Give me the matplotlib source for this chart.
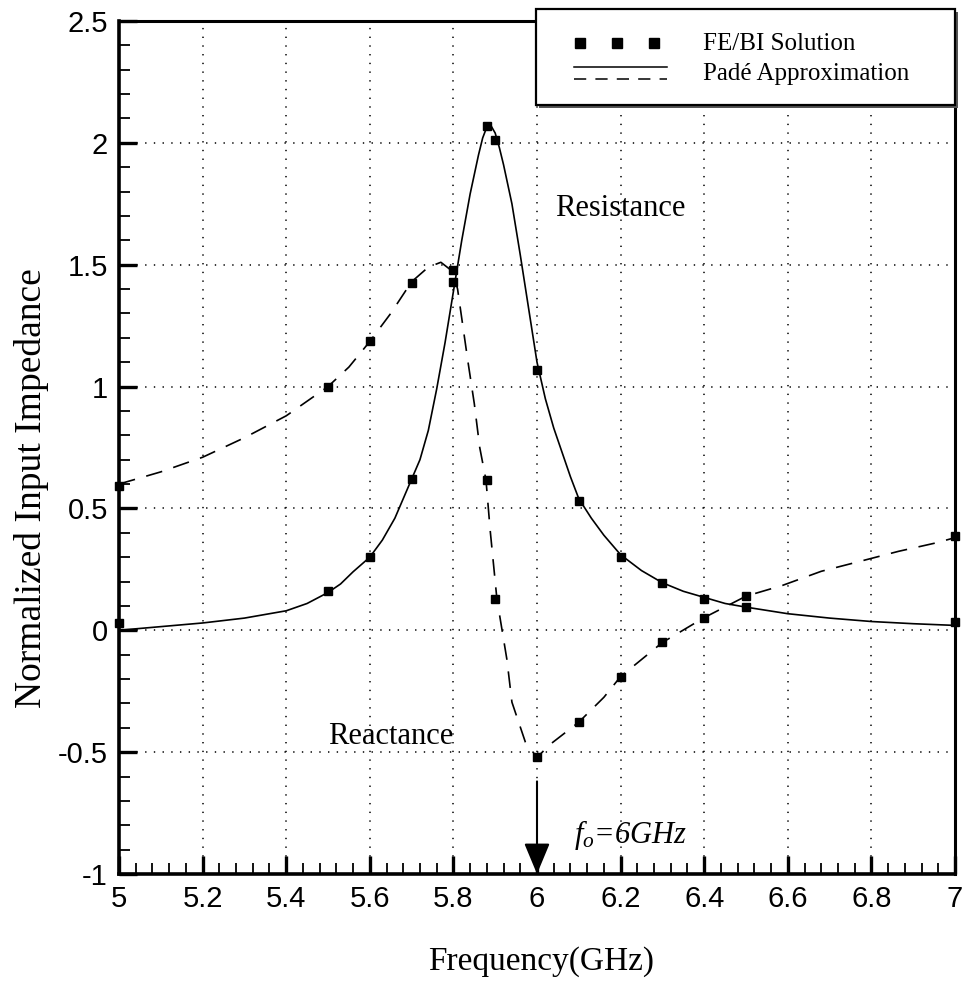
import matplotlib
matplotlib.use("Agg")
import matplotlib.pyplot as plt
from matplotlib.patches import Rectangle
from matplotlib.lines import Line2D
from matplotlib.ticker import MultipleLocator

# ---- data ----
freq_fe = [5.0, 5.5, 5.6, 5.7, 5.8, 5.88, 5.9, 6.0, 6.1, 6.2, 6.3, 6.4, 6.5, 7.0]
res_fe = [0.03, 0.16, 0.30, 0.62, 1.43, 2.07, 2.01, 1.07, 0.53, 0.30, 0.195, 0.13, 0.095, 0.035]
reac_fe = [0.59, 1.0, 1.185, 1.425, 1.48, 0.615, 0.13, -0.52, -0.375, -0.19, -0.05, 0.05, 0.14, 0.385]

freq_res_pade = [5.0, 5.1, 5.2, 5.3, 5.4, 5.45, 5.5, 5.53, 5.56, 5.6, 5.63, 5.66, 5.7, 5.72,
                 5.74, 5.76, 5.78, 5.8, 5.82, 5.84, 5.86, 5.87, 5.88, 5.89, 5.9, 5.91, 5.92,
                 5.94, 5.96, 5.98, 6.0, 6.02, 6.04, 6.06, 6.08, 6.1, 6.13, 6.16, 6.2, 6.25,
                 6.3, 6.35, 6.4, 6.45, 6.5, 6.6, 6.7, 6.8, 6.9, 7.0]
res_pade = [0.0, 0.015, 0.03, 0.05, 0.08, 0.11, 0.155, 0.19, 0.24, 0.30, 0.37, 0.46, 0.62, 0.70,
            0.82, 0.99, 1.18, 1.39, 1.60, 1.79, 1.95, 2.02, 2.065, 2.07, 2.04, 1.98, 1.91,
            1.75, 1.54, 1.32, 1.10, 0.95, 0.83, 0.73, 0.63, 0.54, 0.46, 0.39, 0.31, 0.245,
            0.195, 0.16, 0.135, 0.11, 0.095, 0.068, 0.05, 0.036, 0.027, 0.02]

freq_reac_pade = [5.0, 5.1, 5.2, 5.3, 5.4, 5.5, 5.55, 5.6, 5.65, 5.7, 5.74, 5.77, 5.8, 5.81,
                  5.82, 5.835, 5.85, 5.863, 5.878, 5.888, 5.904, 5.928, 5.94, 5.972, 6.0,
                  6.03, 6.1, 6.16, 6.2, 6.25, 6.3, 6.4, 6.5, 6.587, 6.68, 6.773, 6.865, 6.953, 7.0]
reac_pade = [0.60, 0.65, 0.71, 0.79, 0.88, 1.0, 1.08, 1.185, 1.30, 1.43, 1.49, 1.51, 1.47, 1.40,
             1.28, 1.10, 0.93, 0.75, 0.616, 0.41, 0.13, -0.12, -0.295, -0.458, -0.522,
             -0.47, -0.377, -0.275, -0.19, -0.12, -0.05, 0.052, 0.14, 0.184, 0.242, 0.283, 0.324, 0.358, 0.38]

xticks = [5, 5.2, 5.4, 5.6, 5.8, 6, 6.2, 6.4, 6.6, 6.8, 7]
xticklabels = ["5", "5.2", "5.4", "5.6", "5.8", "6", "6.2", "6.4", "6.6", "6.8", "7"]
yticks = [-1, -0.5, 0, 0.5, 1, 1.5, 2, 2.5]
yticklabels = ["-1", "-0.5", "0", "0.5", "1", "1.5", "2", "2.5"]

plt.rcParams['mathtext.fontset'] = 'custom'
plt.rcParams['mathtext.it'] = 'Liberation Serif:italic'
plt.rcParams['mathtext.rm'] = 'Liberation Serif:italic'

SERIF = ['Liberation Serif', 'DejaVu Serif']
TICKF = ['Liberation Sans Narrow', 'Liberation Sans', 'DejaVu Sans']

fig = plt.figure(figsize=(9.65, 10.05), dpi=100)
L, R, T, B = 119, 955, 21, 874
W, H = 965, 1005
ax = fig.add_axes([L / W, 1 - B / H, (R - L) / W, (B - T) / H])

ax.set_xlim(5, 7)
ax.set_ylim(-1, 2.5)

ax.set_xticks(xticks)
ax.set_xticklabels(xticklabels)
ax.set_yticks(yticks)
ax.set_yticklabels(yticklabels)
ax.xaxis.set_minor_locator(MultipleLocator(0.04))
ax.yaxis.set_minor_locator(MultipleLocator(0.1))
ax.grid(True, which='major', color='black', linestyle=(0, (0.9, 4.8)), linewidth=1.1)

for lab in ax.get_xticklabels() + ax.get_yticklabels():
    lab.set_family(TICKF)
    lab.set_fontsize(21)

ax.tick_params(axis='both', which='major', direction='in', length=13, width=2.4,
               top=False, right=False, color='black')
ax.tick_params(axis='both', which='minor', direction='in', length=8, width=1.3,
               top=False, right=False)
ax.tick_params(axis='x', which='major', pad=8)
ax.tick_params(axis='y', which='major', pad=8)

for side in ['left', 'bottom']:
    ax.spines[side].set_linewidth(2.6)
for side in ['top', 'right']:
    ax.spines[side].set_linewidth(2.2)

# Padé curves
ax.plot(freq_res_pade, res_pade, color='black', linewidth=1.2, solid_joinstyle='round')
ax.plot(freq_reac_pade, reac_pade, color='black', linewidth=1.2, linestyle=(0, (10, 7)))

# FE/BI markers
ax.plot(freq_fe, res_fe, linestyle='none', marker='s', markersize=6.2, color='black',
        clip_on=False, zorder=5)
ax.plot(freq_fe, reac_fe, linestyle='none', marker='s', markersize=6.2, color='black',
        clip_on=False, zorder=5)

# annotations
ax.text(6.2, 1.73, 'Resistance', family=SERIF, fontsize=22, ha='center', va='center')
ax.text(5.65, -0.435, 'Reactance', family=SERIF, fontsize=22, ha='center', va='center')
ax.text(6.225, -0.84, r'$f_o$=6GHz', family=SERIF, fontstyle='italic', fontsize=22,
        ha='center', va='center')
ax.annotate('', xy=(6, -1.0), xytext=(6, -0.62),
            arrowprops=dict(arrowstyle='-|>,head_length=1.2,head_width=0.5',
                            mutation_scale=16, lw=1.5, color='black',
                            shrinkA=0, shrinkB=0))

fig.text(541 / W, 1 - 962 / H, 'Frequency(GHz)', family=SERIF, fontsize=24,
         ha='center', va='center')
fig.text(32 / W, 1 - 488 / H, 'Normalized Input Impedance', family=SERIF, fontsize=27,
         ha='center', va='center', rotation=90)

# legend box (drawn manually)
bx0, by0, bx1, by1 = 536, 9, 955, 105
fig.patches.append(Rectangle((bx0 / W + 0.003, 1 - (by1 + 3) / H), (bx1 - bx0) / W, (by1 - by0) / H,
                             transform=fig.transFigure, facecolor='#555555',
                             edgecolor='none', zorder=9))
fig.patches.append(Rectangle((bx0 / W, 1 - by1 / H), (bx1 - bx0) / W, (by1 - by0) / H,
                             transform=fig.transFigure, facecolor='white',
                             edgecolor='black', linewidth=1.6, zorder=10))
fig.lines.append(Line2D([580 / W, 617 / W, 654 / W], [1 - 43 / H] * 3, transform=fig.transFigure,
                        linestyle='none', marker='s', markersize=6.5, color='black', zorder=11))
fig.lines.append(Line2D([574 / W, 667 / W], [1 - 67 / H] * 2, transform=fig.transFigure,
                        color='black', linewidth=1.1, zorder=11))
fig.lines.append(Line2D([574 / W, 667 / W], [1 - 79 / H] * 2, transform=fig.transFigure,
                        color='black', linewidth=1.1, linestyle=(0, (8, 6)), zorder=11))
fig.text(703 / W, 1 - 44 / H, 'FE/BI Solution', family=SERIF, fontsize=18,
         ha='left', va='center', zorder=12)
fig.text(703 / W, 1 - 74 / H, 'Padé Approximation', family=SERIF, fontsize=18,
         ha='left', va='center', zorder=12)

fig.savefig('out.png', dpi=100)
